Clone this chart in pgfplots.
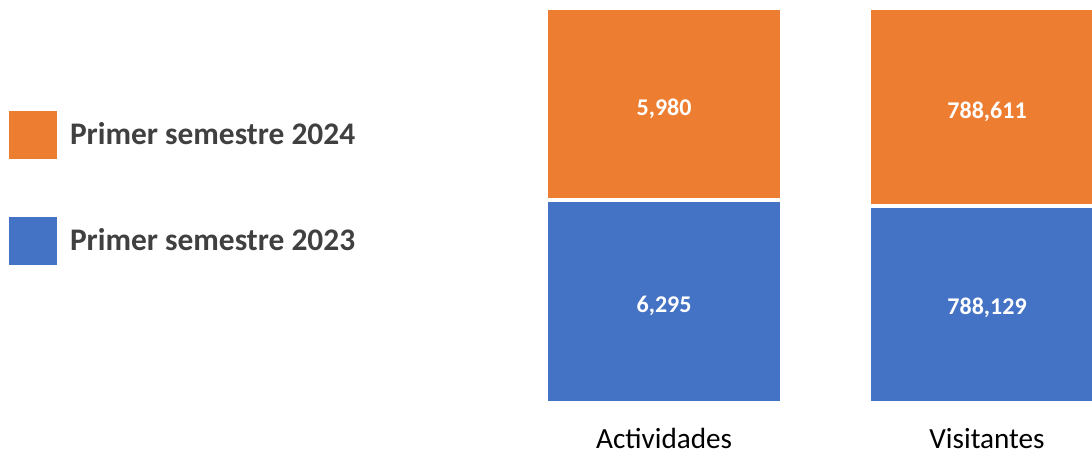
\documentclass[border=0pt]{standalone}
\usepackage{pgfplots}
\pgfplotsset{compat=1.18}
\usepackage{pgfplotstable}
\usepackage{fontspec}
\setmainfont{Carlito}
\definecolor{cOrange}{HTML}{ED7D31}
\definecolor{cBlue}{HTML}{4472C4}
\definecolor{cText}{HTML}{404040}
\pgfplotstableread{
x a23 a24
0 6295 5980
1 788129 788611
}\datatable
\pgfplotsset{
  common/.style={
    at={(230pt,25pt)}, anchor=south west,
    scale only axis, width=316pt, height=197.5pt,
    xmin=-0.632, xmax=1.325, ymin=0, ymax=100,
    axis line style={draw=none},
    major tick length=0pt,
    ytick=\empty,
  }
}
\begin{document}
\begin{tikzpicture}
\begin{axis}[
  common,
  ybar stacked, bar width=118pt,
  xtick={0,1}, xticklabels={Actividades,Visitantes},
  xticklabel style={font=\fontsize{14.6pt}{17pt}\selectfont, text=black, yshift=-9pt},
  clip=true,
  legend cell align=left,
  reverse legend,
  legend style={at={(-0.7136,0.7393)}, anchor=north west, draw=none, fill=none,
    font=\fontsize{15.7pt}{18pt}\selectfont\bfseries, text=cText,
    row sep=29pt, inner sep=0pt, outer sep=0pt},
  legend image code/.code={\fill[#1,draw=none] (0pt,-12pt) rectangle (24pt,12pt);},
]
\addplot[fill=cBlue, draw=white, line width=2pt]
  table[x=x, y expr={\thisrow{a23}/(\thisrow{a23}+\thisrow{a24})*100}] {\datatable};
\addlegendentry{\hspace{4.5pt}Primer semestre 2023}
\addplot[fill=cOrange, draw=white, line width=2pt]
  table[x=x, y expr={\thisrow{a24}/(\thisrow{a23}+\thisrow{a24})*100}] {\datatable};
\addlegendentry{\hspace{4.5pt}Primer semestre 2024}
\end{axis}
\begin{axis}[
  common,
  xtick=\empty,
  clip=false,
  /pgf/number format/.cd, fixed, precision=0, 1000 sep={,}, assume math mode=true,
  /pgfplots/.cd,
  nodes near coords,
  every node near coord/.append style={font=\fontsize{12pt}{14pt}\selectfont\bfseries, text=white, anchor=center},
]
\addplot[draw=none, mark=none, point meta=\thisrow{a23},
  every node near coord/.append style={yshift=-2pt}]
  table[x=x, y expr={0.5*\thisrow{a23}/(\thisrow{a23}+\thisrow{a24})*100}] {\datatable};
\addplot[draw=none, mark=none, point meta=\thisrow{a24},
  every node near coord/.append style={yshift=-2.5pt}]
  table[x=x, y expr={(\thisrow{a23}+0.5*\thisrow{a24})/(\thisrow{a23}+\thisrow{a24})*100}] {\datatable};
\end{axis}
\pgfresetboundingbox
\useasboundingbox (0,0) rectangle (546pt,226.5pt);
\end{tikzpicture}
\end{document}
